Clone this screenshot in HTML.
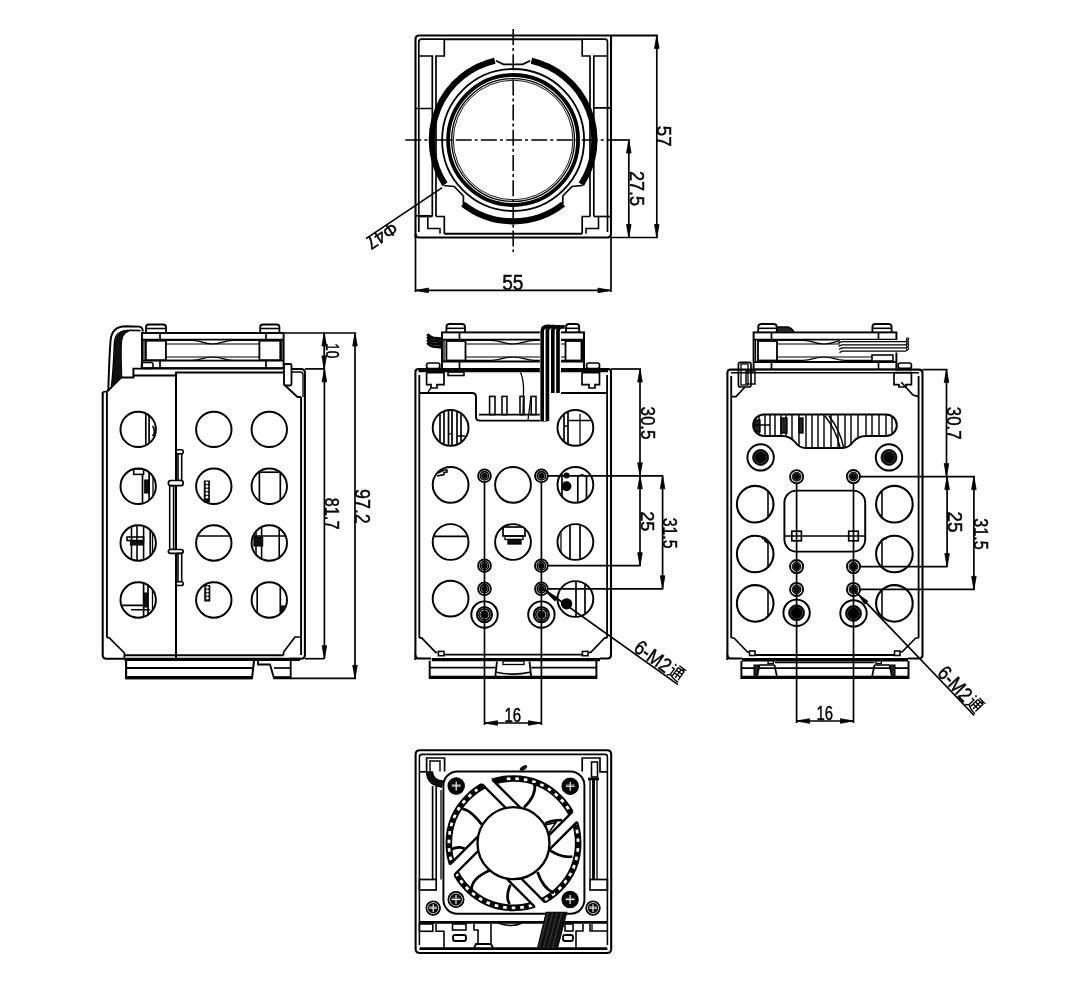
<!DOCTYPE html>
<html><head><meta charset="utf-8"><style>
html,body{margin:0;padding:0;background:#fff;}
svg{filter:grayscale(1);}
svg{display:block;}
text{font-family:"Liberation Sans",sans-serif;fill:#000;stroke:#000;stroke-width:0.45px;}
</style></head><body>
<svg width="1078" height="1000" viewBox="0 0 1078 1000" stroke="#000" fill="none" stroke-linecap="butt" stroke-linejoin="miter">
<rect x="0" y="0" width="1078" height="1000" fill="#fff" stroke="none"/>
<defs><clipPath id="c1"><circle cx="138.4" cy="429.1" r="17.2"/></clipPath><clipPath id="c2"><circle cx="138.4" cy="486.2" r="17.2"/></clipPath><clipPath id="c3"><circle cx="138.4" cy="543" r="17.2"/></clipPath><clipPath id="c4"><circle cx="138.4" cy="600" r="17.2"/></clipPath><clipPath id="c5"><circle cx="213.8" cy="543" r="17.2"/></clipPath><clipPath id="c6"><circle cx="269.3" cy="486.2" r="17.2"/></clipPath><clipPath id="c7"><circle cx="269.3" cy="543" r="17.2"/></clipPath><clipPath id="c8"><circle cx="269.3" cy="600" r="17.2"/></clipPath><clipPath id="c9"><circle cx="450.6" cy="427.8" r="17.2"/></clipPath><clipPath id="c10"><circle cx="575.4" cy="427.8" r="17.2"/></clipPath><clipPath id="c11"><circle cx="450.6" cy="484.8" r="17.2"/></clipPath><clipPath id="c12"><circle cx="575.4" cy="484.8" r="17.2"/></clipPath><clipPath id="c13"><circle cx="450.6" cy="542" r="17.2"/></clipPath><clipPath id="c14"><circle cx="513" cy="542" r="17.2"/></clipPath><clipPath id="c15"><circle cx="575.4" cy="542" r="17.2"/></clipPath><clipPath id="c16"><circle cx="575.4" cy="599" r="17.2"/></clipPath><clipPath id="c17"><path d="M764,414.4 L886,414.4 A10.8,10.8 0 0 1 886,436 L866,436 Q858,436 853,442 Q849,448 842,448 L806,448 Q799,448 795,442 Q790,436 782,436 L764,436 A10.8,10.8 0 0 1 764,414.4 Z"/></clipPath></defs>
<path d="M415.5,238 L415.5,39 Q415.5,35.5 419,35.5 L658,35.5" stroke-width="2.08" fill="none" />
<path d="M611,35.5 L611,234 Q611,237.5 607.5,237.5 L419,237.5 Q415.5,237.5 415.5,234" stroke-width="2.08" fill="none" />
<line x1="611.00" y1="237.50" x2="658.00" y2="237.50" stroke-width="1.69" />
<path d="M418.8,232 L418.8,42 Q418.8,39.2 421.5,39.2 L444.3,39.2" stroke-width="1.69" fill="none" />
<line x1="444.30" y1="39.20" x2="582.20" y2="39.20" stroke-width="1.95" />
<path d="M582.2,39.2 L605,39.2 Q607.5,39.2 607.5,42 L607.5,232" stroke-width="1.69" fill="none" />
<line x1="444.30" y1="233.80" x2="582.20" y2="233.80" stroke-width="1.95" />
<polyline points="418.80,56.00 432.30,56.00 432.30,108.50 415.50,108.50" stroke-width="1.69" fill="none" />
<polyline points="444.30,39.20 444.30,56.00 436.00,56.00 436.00,216.50" stroke-width="1.69" fill="none" />
<line x1="432.30" y1="108.50" x2="432.30" y2="216.50" stroke-width="1.69" />
<polyline points="607.50,56.00 593.80,56.00 593.80,107.80 611.00,107.80" stroke-width="1.69" fill="none" />
<polyline points="582.20,39.20 582.20,56.00 590.00,56.00 590.00,216.50" stroke-width="1.69" fill="none" />
<line x1="593.80" y1="107.80" x2="593.80" y2="216.50" stroke-width="1.69" />
<line x1="415.50" y1="215.80" x2="432.30" y2="215.80" stroke-width="1.69" />
<polyline points="436.00,216.50 444.30,216.50 444.30,233.80" stroke-width="1.69" fill="none" />
<polyline points="418.80,216.50 432.30,216.50" stroke-width="1.69" fill="none" />
<polyline points="427.80,216.50 427.80,228.50 440.00,228.50 440.00,233.80" stroke-width="1.56" fill="none" />
<line x1="611.00" y1="216.50" x2="593.80" y2="216.50" stroke-width="1.69" />
<polyline points="590.00,216.50 582.20,216.50 582.20,233.80" stroke-width="1.69" fill="none" />
<polyline points="598.50,216.50 598.50,228.50 586.00,228.50 586.00,233.80" stroke-width="1.56" fill="none" />
<line x1="402.00" y1="140.00" x2="611.00" y2="140.00" stroke-width="1.56" stroke-dasharray="16,3,3,3.2" stroke-dashoffset="21.9"/>
<line x1="611.00" y1="140.00" x2="630.00" y2="140.00" stroke-width="1.69" />
<line x1="513.20" y1="29.00" x2="513.20" y2="252.00" stroke-width="1.56" stroke-dasharray="16,3,3,3.2" stroke-dashoffset="0"/>
<path d="M531.39,60.78 A81.3,81.3 0 0 1 581.28,184.28" stroke-width="6.2" fill="none" />
<path d="M563.15,204.07 A81.3,81.3 0 0 1 463.05,204.07" stroke-width="6.2" fill="none" />
<path d="M444.92,184.28 A81.3,81.3 0 0 1 494.81,60.78" stroke-width="6.2" fill="none" />
<polyline points="496.00,60.80 503.50,64.30 522.70,64.30 530.20,60.80" stroke-width="1.82" fill="none" />
<polyline points="443.60,185.50 454.20,186.50 463.40,196.00 463.40,204.50" stroke-width="1.69" fill="none" />
<polyline points="582.60,185.50 572.00,186.50 562.80,196.00 562.80,204.50" stroke-width="1.69" fill="none" />
<circle cx="513.10" cy="140.00" r="71.00" stroke-width="1.82" fill="none" />
<circle cx="513.10" cy="140.00" r="65.00" stroke-width="3.8" fill="none" />
<circle cx="513.10" cy="140.00" r="61.40" stroke-width="1.3" fill="none" />
<circle cx="513.10" cy="140.00" r="59.80" stroke-width="0.91" fill="none" />
<line x1="656.80" y1="35.50" x2="656.80" y2="237.50" stroke-width="1.69" />
<polygon points="656.80,35.50 659.10,48.50 654.50,48.50" stroke-width="0.78" fill="#000" />
<polygon points="656.80,237.50 654.50,224.50 659.10,224.50" stroke-width="0.78" fill="#000" />
<line x1="628.80" y1="140.00" x2="628.80" y2="237.50" stroke-width="1.69" />
<polygon points="628.80,140.00 631.10,153.00 626.50,153.00" stroke-width="0.78" fill="#000" />
<polygon points="628.80,237.50 626.50,224.50 631.10,224.50" stroke-width="0.78" fill="#000" />
<line x1="415.50" y1="238.00" x2="415.50" y2="292.00" stroke-width="1.69" />
<line x1="611.00" y1="238.00" x2="611.00" y2="292.00" stroke-width="1.69" />
<line x1="415.50" y1="290.40" x2="611.00" y2="290.40" stroke-width="1.69" />
<polygon points="415.50,290.40 428.50,288.10 428.50,292.70" stroke-width="0.78" fill="#000" />
<polygon points="611.00,290.40 598.00,292.70 598.00,288.10" stroke-width="0.78" fill="#000" />
<text x="0" y="0" font-size="20.95" textLength="20.76" lengthAdjust="spacingAndGlyphs" text-anchor="start" transform="translate(657.00,125.87) rotate(90)" >57</text>
<text x="0" y="0" font-size="20.25" textLength="35.22" lengthAdjust="spacingAndGlyphs" text-anchor="start" transform="translate(629.50,170.89) rotate(90)" >27.5</text>
<text x="0" y="0" font-size="21.37" textLength="21.28" lengthAdjust="spacingAndGlyphs" text-anchor="start" transform="translate(502.16,290.30) rotate(0)" >55</text>
<line x1="366.00" y1="238.60" x2="442.20" y2="187.60" stroke-width="1.69" />
<text x="0" y="0" font-size="18" textLength="34" lengthAdjust="spacingAndGlyphs" text-anchor="start" transform="translate(392.50,221.20) rotate(146.2)" >Φ47</text>
<rect x="142.00" y="333.00" width="141.60" height="35.10" rx="0" stroke-width="1.95" fill="none" />
<line x1="142.00" y1="339.70" x2="283.60" y2="339.70" stroke-width="1.82" />
<line x1="142.00" y1="360.60" x2="283.60" y2="360.60" stroke-width="1.82" />
<line x1="160.00" y1="333.00" x2="160.00" y2="339.70" stroke-width="1.69" />
<line x1="266.00" y1="333.00" x2="266.00" y2="339.70" stroke-width="1.69" />
<line x1="160.00" y1="360.60" x2="160.00" y2="368.10" stroke-width="1.69" />
<line x1="266.00" y1="360.60" x2="266.00" y2="368.10" stroke-width="1.69" />
<rect x="145.90" y="340.70" width="20.00" height="19.50" rx="0" stroke-width="1.82" fill="none" />
<rect x="259.40" y="340.70" width="20.90" height="19.50" rx="0" stroke-width="1.82" fill="none" />
<line x1="144.00" y1="340.00" x2="144.00" y2="360.00" stroke-width="1.3" />
<line x1="281.80" y1="340.00" x2="281.80" y2="360.00" stroke-width="1.3" />
<path d="M165.9,340.4 L192.0,340.4 C202.3,340.4 202.3,344.0 212.6,344.0 C222.9,344.0 222.9,340.4 233.2,340.4 L259.4,340.4" stroke-width="1.23" fill="none" />
<path d="M165.9,360.4 L192.0,360.4 C202.3,360.4 202.3,357.0 212.6,357.0 C222.9,357.0 222.9,360.4 233.2,360.4 L259.4,360.4" stroke-width="1.23" fill="none" />
<line x1="165.90" y1="344.00" x2="259.40" y2="344.00" stroke-width="1.23" />
<line x1="165.90" y1="357.00" x2="259.40" y2="357.00" stroke-width="1.23" />
<path d="M146,332.5 L146,327 Q146,324.5 149,324.5 L163,324.5 Q166,324.5 166,327 L166,332.5" stroke-width="1.82" fill="none" />
<line x1="146.00" y1="328.50" x2="166.00" y2="328.50" stroke-width="1.56" />
<path d="M260.2,332.5 L260.2,327 Q260.2,324.5 263,324.5 L276.5,324.5 Q279.4,324.5 279.4,327 L279.4,332.5" stroke-width="1.82" fill="none" />
<line x1="260.20" y1="328.50" x2="279.40" y2="328.50" stroke-width="1.56" />
<line x1="283.60" y1="333.00" x2="356.20" y2="333.00" stroke-width="1.69" />
<rect x="141.50" y="362.50" width="11.50" height="6.00" rx="2" stroke-width="1.56" fill="none" />
<path d="M108.3,391 C108.8,372 109.8,350 110.6,340 C111.5,331 117,326.3 126,326.3 L139.5,326.6 Q143,327.5 142.7,331.5" stroke-width="1.95" fill="none" />
<path d="M111.5,386 C113.5,372 114,350 114.6,341 C115.5,334 121,330.3 130,330.2 L140.5,330.6" stroke-width="1.56" fill="none" />
<path d="M112,385 C114.5,372 115,352 115.5,342 C116.5,335 121,331.2 129,331 C123.5,333 121.6,337 121.3,346 C121,358 121.5,368 121.8,377 Z" stroke-width="1.04" fill="#111" />
<path d="M107.4,391.3 L121.3,377.4 L133.4,377.4 L133.4,368.6 L283,368.6" stroke-width="1.95" fill="none" />
<line x1="133.40" y1="375.50" x2="175.60" y2="375.50" stroke-width="1.95" />
<line x1="175.60" y1="372.50" x2="284.00" y2="372.50" stroke-width="1.82" />
<path d="M102.7,392 L102.7,655 Q102.7,658.7 106.4,658.7 L124.4,658.7" stroke-width="2.08" fill="none" />
<line x1="106.90" y1="391.30" x2="106.90" y2="637.70" stroke-width="1.95" />
<polyline points="106.90,637.70 109.00,637.70 124.40,653.00 124.40,658.70" stroke-width="1.69" fill="none" />
<line x1="102.70" y1="392.00" x2="107.40" y2="391.30" stroke-width="1.69" />
<line x1="176.00" y1="372.00" x2="176.00" y2="658.00" stroke-width="2.08" />
<line x1="124.40" y1="655.20" x2="283.60" y2="655.20" stroke-width="1.95" />
<line x1="124.40" y1="659.40" x2="300.00" y2="659.40" stroke-width="3.12" />
<polyline points="126.10,660.50 126.10,678.30 252.00,678.30 254.00,661.00" stroke-width="2.08" fill="none" />
<line x1="126.10" y1="668.00" x2="252.00" y2="668.00" stroke-width="1.82" />
<line x1="126.10" y1="677.60" x2="252.00" y2="677.60" stroke-width="3.12" />
<polyline points="258.00,660.50 258.00,664.50 270.00,664.50 274.00,678.30 290.70,678.30 290.70,660.50" stroke-width="1.82" fill="none" />
<line x1="274.00" y1="668.00" x2="290.70" y2="668.00" stroke-width="1.69" />
<line x1="274.00" y1="677.60" x2="290.70" y2="677.60" stroke-width="2.86" />
<path d="M291,369 L301,369 Q304.9,369 304.9,373 L304.9,655 Q304.9,658.7 301,658.7 L290,658.7" stroke-width="2.08" fill="none" />
<line x1="301.10" y1="397.00" x2="301.10" y2="655.00" stroke-width="1.95" />
<path d="M291.5,372 L300,372 Q303,372 303,375 L303,397" stroke-width="1.3" fill="none" />
<rect x="284.00" y="364.00" width="7.50" height="21.50" rx="1.5" stroke-width="1.82" fill="#fff" />
<polyline points="284.00,384.50 297.50,397.00 301.10,397.00" stroke-width="1.82" fill="none" />
<polyline points="301.10,637.00 295.00,637.00 283.60,652.00 283.60,655.20" stroke-width="1.69" fill="none" />
<line x1="304.90" y1="658.70" x2="324.00" y2="658.70" stroke-width="1.69" />
<line x1="290.70" y1="678.30" x2="356.00" y2="678.30" stroke-width="1.69" />
<line x1="305.00" y1="368.90" x2="324.70" y2="368.90" stroke-width="1.69" />
<rect x="178.00" y="453.50" width="3.70" height="27.00" rx="0" stroke-width="1.56" fill="none" />
<rect x="176.00" y="449.80" width="7.20" height="4.00" rx="1.8" stroke-width="1.56" fill="#fff" />
<rect x="168.40" y="480.50" width="14.80" height="5.20" rx="2.4" stroke-width="1.69" fill="#fff" />
<rect x="169.70" y="485.70" width="3.90" height="63.80" rx="0" stroke-width="1.56" fill="none" />
<rect x="168.40" y="549.50" width="14.80" height="3.90" rx="2.2" stroke-width="1.69" fill="#fff" />
<rect x="178.00" y="553.40" width="3.70" height="28.30" rx="0" stroke-width="1.56" fill="none" />
<rect x="176.00" y="581.70" width="7.20" height="3.80" rx="1.8" stroke-width="1.56" fill="#fff" />
<circle cx="138.20" cy="429.40" r="17.70" stroke-width="1.95" fill="none" />
<circle cx="138.20" cy="486.30" r="17.70" stroke-width="1.95" fill="none" />
<circle cx="138.20" cy="543.00" r="17.70" stroke-width="1.95" fill="none" />
<circle cx="138.20" cy="600.00" r="17.70" stroke-width="1.95" fill="none" />
<circle cx="213.80" cy="429.40" r="17.70" stroke-width="1.95" fill="none" />
<circle cx="213.80" cy="486.30" r="17.70" stroke-width="1.95" fill="none" />
<circle cx="213.80" cy="543.00" r="17.70" stroke-width="1.95" fill="none" />
<circle cx="213.80" cy="600.00" r="17.70" stroke-width="1.95" fill="none" />
<circle cx="269.30" cy="429.40" r="17.70" stroke-width="1.95" fill="none" />
<circle cx="269.30" cy="486.30" r="17.70" stroke-width="1.95" fill="none" />
<circle cx="269.30" cy="543.00" r="17.70" stroke-width="1.95" fill="none" />
<circle cx="269.30" cy="600.00" r="17.70" stroke-width="1.95" fill="none" />
<g clip-path="url(#c1)">
<line x1="145.80" y1="410.00" x2="145.80" y2="448.00" stroke-width="1.69" />
<line x1="149.10" y1="410.00" x2="149.10" y2="448.00" stroke-width="1.69" />
<path d="M152.5,426 Q155,429 154,434 L152.5,436" stroke-width="1.56" fill="none" />
</g>
<g clip-path="url(#c2)">
<rect x="133.70" y="469.00" width="9.90" height="5.40" rx="0" stroke-width="1.56" fill="none" />
<line x1="142.50" y1="474.40" x2="142.50" y2="506.00" stroke-width="1.69" />
<line x1="149.10" y1="466.00" x2="149.10" y2="506.00" stroke-width="1.69" />
<line x1="153.00" y1="466.00" x2="153.00" y2="506.00" stroke-width="1.3" />
<rect x="144.70" y="480.00" width="4.40" height="13.00" rx="0" stroke-width="1.04" fill="#111" />
</g>
<g clip-path="url(#c3)">
<line x1="131.50" y1="522.00" x2="131.50" y2="564.00" stroke-width="1.56" />
<line x1="137.00" y1="522.00" x2="137.00" y2="564.00" stroke-width="1.56" />
<line x1="143.60" y1="522.00" x2="143.60" y2="564.00" stroke-width="1.56" />
<line x1="150.20" y1="522.00" x2="150.20" y2="564.00" stroke-width="1.56" />
<rect x="127.00" y="537.00" width="16.60" height="3.50" rx="0" stroke-width="1.56" fill="none" />
<rect x="130.40" y="541.60" width="13.20" height="3.40" rx="0" stroke-width="1.04" fill="#111" />
<line x1="152.50" y1="525.00" x2="152.50" y2="562.00" stroke-width="1.3" />
</g>
<g clip-path="url(#c4)">
<line x1="143.60" y1="582.00" x2="143.60" y2="620.00" stroke-width="1.69" />
<line x1="148.00" y1="582.00" x2="148.00" y2="620.00" stroke-width="1.69" />
<line x1="152.50" y1="584.00" x2="152.50" y2="620.00" stroke-width="1.3" />
<rect x="144.50" y="593.00" width="3.50" height="14.00" rx="0" stroke-width="1.04" fill="#111" />
<polyline points="120.00,605.40 143.60,605.40" stroke-width="1.69" fill="none" />
<polyline points="131.00,609.80 150.00,609.80" stroke-width="1.56" fill="none" />
</g>
<rect x="204.30" y="481.00" width="5.00" height="21.00" rx="0" stroke-width="1.04" fill="#111" />
<circle cx="206.90" cy="482.80" r="1.10" stroke-width="0.65" fill="#fff" stroke="#fff"/>
<circle cx="206.90" cy="486.40" r="1.10" stroke-width="0.65" fill="#fff" stroke="#fff"/>
<circle cx="206.90" cy="490.00" r="1.10" stroke-width="0.65" fill="#fff" stroke="#fff"/>
<circle cx="206.90" cy="493.60" r="1.10" stroke-width="0.65" fill="#fff" stroke="#fff"/>
<circle cx="206.90" cy="497.20" r="1.10" stroke-width="0.65" fill="#fff" stroke="#fff"/>
<rect x="204.80" y="585.60" width="5.00" height="15.40" rx="0" stroke-width="1.04" fill="#111" />
<circle cx="207.40" cy="587.40" r="1.10" stroke-width="0.65" fill="#fff" stroke="#fff"/>
<circle cx="207.40" cy="591.00" r="1.10" stroke-width="0.65" fill="#fff" stroke="#fff"/>
<circle cx="207.40" cy="594.60" r="1.10" stroke-width="0.65" fill="#fff" stroke="#fff"/>
<circle cx="207.40" cy="598.20" r="1.10" stroke-width="0.65" fill="#fff" stroke="#fff"/>
<g clip-path="url(#c5)">
<line x1="195.00" y1="536.00" x2="233.00" y2="536.00" stroke-width="1.69" />
</g>
<g clip-path="url(#c6)">
<rect x="259.40" y="472.20" width="20.90" height="37.80" rx="0" stroke-width="1.69" fill="none" />
</g>
<g clip-path="url(#c7)">
<line x1="256.00" y1="522.00" x2="256.00" y2="564.00" stroke-width="1.56" />
<line x1="261.60" y1="522.00" x2="261.60" y2="564.00" stroke-width="1.56" />
<line x1="279.20" y1="522.00" x2="279.20" y2="564.00" stroke-width="1.56" />
<line x1="286.90" y1="522.00" x2="286.90" y2="564.00" stroke-width="1.56" />
<line x1="250.00" y1="536.00" x2="290.00" y2="536.00" stroke-width="1.69" />
<rect x="253.90" y="537.00" width="8.80" height="9.00" rx="0" stroke-width="1.04" fill="#111" />
</g>
<g clip-path="url(#c8)">
<line x1="257.20" y1="580.00" x2="257.20" y2="620.00" stroke-width="1.69" />
<line x1="280.30" y1="580.00" x2="280.30" y2="620.00" stroke-width="1.69" />
<rect x="281.00" y="606.00" width="5.00" height="6.00" rx="0" stroke-width="1.04" fill="#111" />
</g>
<line x1="324.20" y1="332.90" x2="324.20" y2="368.90" stroke-width="1.69" />
<polygon points="324.20,332.90 326.50,345.90 321.90,345.90" stroke-width="0.78" fill="#000" />
<polygon points="324.20,368.90 321.90,355.90 326.50,355.90" stroke-width="0.78" fill="#000" />
<line x1="324.40" y1="368.90" x2="324.40" y2="658.70" stroke-width="1.69" />
<polygon points="324.40,368.90 326.70,381.90 322.10,381.90" stroke-width="0.78" fill="#000" />
<polygon points="324.40,658.70 322.10,645.70 326.70,645.70" stroke-width="0.78" fill="#000" />
<line x1="355.00" y1="333.00" x2="355.00" y2="678.30" stroke-width="1.69" />
<polygon points="355.00,333.00 357.30,346.00 352.70,346.00" stroke-width="0.78" fill="#000" />
<polygon points="355.00,678.30 352.70,665.30 357.30,665.30" stroke-width="0.78" fill="#000" />
<text x="0" y="0" font-size="18.72" textLength="15.12" lengthAdjust="spacingAndGlyphs" text-anchor="start" transform="translate(325.60,343.24) rotate(90)" >10</text>
<text x="0" y="0" font-size="20.67" textLength="31.64" lengthAdjust="spacingAndGlyphs" text-anchor="start" transform="translate(324.80,497.78) rotate(90)" >81.7</text>
<text x="0" y="0" font-size="21.23" textLength="34.87" lengthAdjust="spacingAndGlyphs" text-anchor="start" transform="translate(355.20,488.96) rotate(90)" >97.2</text>
<rect x="442.00" y="332.40" width="142.00" height="36.60" rx="0" stroke-width="1.95" fill="none" />
<line x1="442.00" y1="339.70" x2="584.00" y2="339.70" stroke-width="1.82" />
<line x1="442.00" y1="361.50" x2="584.00" y2="361.50" stroke-width="1.82" />
<line x1="459.50" y1="332.40" x2="459.50" y2="339.70" stroke-width="1.69" />
<line x1="459.50" y1="361.50" x2="459.50" y2="369.00" stroke-width="1.69" />
<rect x="446.40" y="341.00" width="19.10" height="19.50" rx="0" stroke-width="1.82" fill="none" />
<rect x="565.50" y="341.00" width="16.00" height="19.50" rx="0" stroke-width="1.82" fill="none" />
<line x1="444.00" y1="340.00" x2="444.00" y2="361.00" stroke-width="1.3" />
<line x1="582.50" y1="340.00" x2="582.50" y2="361.00" stroke-width="1.3" />
<path d="M465.5,340.4 L491.0,340.4 C502.0,340.4 502.0,344.0 513.0,344.0 C524.0,344.0 524.0,340.4 535.0,340.4 L565.5,340.4" stroke-width="1.23" fill="none" />
<path d="M465.5,360.4 L491.0,360.4 C502.0,360.4 502.0,357.0 513.0,357.0 C524.0,357.0 524.0,360.4 535.0,360.4 L565.5,360.4" stroke-width="1.23" fill="none" />
<line x1="465.50" y1="344.00" x2="565.50" y2="344.00" stroke-width="1.23" />
<line x1="465.50" y1="357.00" x2="565.50" y2="357.00" stroke-width="1.23" />
<path d="M446.4,332 L446.4,327 Q446.4,324 449.5,324 L462,324 Q465,324 465,327 L465,332" stroke-width="1.82" fill="none" />
<line x1="446.40" y1="328.30" x2="465.00" y2="328.30" stroke-width="1.56" />
<path d="M566,332 L566,327 Q566,324 569,324 L576.5,324 Q579.2,324 579.2,327 L579.2,332" stroke-width="1.82" fill="none" />
<line x1="566.00" y1="328.30" x2="579.20" y2="328.30" stroke-width="1.56" />
<rect x="448.00" y="372.00" width="16.00" height="3.50" rx="0" stroke-width="1.56" fill="none" />
<path d="M442,339.0 L433,338.0 Q429,337.0 427.5,334.0" stroke-width="2.86" fill="none" />
<path d="M442,341.8 L433,340.8 Q429,339.8 427.5,336.8" stroke-width="2.86" fill="none" />
<path d="M442,344.6 L433,343.6 Q429,342.6 427.5,339.6" stroke-width="2.86" fill="none" />
<path d="M442,347.4 L433,346.4 Q429,345.4 427.5,342.4" stroke-width="2.86" fill="none" />
<path d="M415.4,660 L415.4,372 Q415.4,369 418.5,369 L608,369 Q611.0,369 611.0,372 L611.0,655 Q611.0,658.5 607.5,658.5 L600,658.5" stroke-width="2.08" fill="none" />
<line x1="418.50" y1="370.60" x2="608.00" y2="370.60" stroke-width="3.38" />
<line x1="611.00" y1="369.00" x2="641.00" y2="369.00" stroke-width="1.69" />
<line x1="419.30" y1="375.00" x2="419.30" y2="637.90" stroke-width="1.82" />
<line x1="607.10" y1="375.00" x2="607.10" y2="637.90" stroke-width="1.82" />
<rect x="426.60" y="363.00" width="13.20" height="5.50" rx="2" stroke-width="1.69" fill="none" />
<polyline points="426.60,372.60 444.00,372.60 444.00,384.60 437.00,384.60 437.00,388.00 431.00,388.00 431.00,384.60 426.60,384.60 426.60,372.60" stroke-width="1.69" fill="none" />
<polyline points="431.00,388.00 428.00,392.00" stroke-width="1.3" fill="none" />
<rect x="586.60" y="363.00" width="12.90" height="5.50" rx="2" stroke-width="1.69" fill="none" />
<polyline points="582.00,372.60 599.50,372.60 599.50,384.60 595.00,384.60 595.00,388.00 589.00,388.00 589.00,384.60 582.00,384.60 582.00,372.60" stroke-width="1.69" fill="none" />
<path d="M420,393 L472,393 Q476,393 476,397 L476,417 Q476,420.6 480,420.6 L546,420.6 Q549.8,420.6 549.8,417 L549.8,397 Q549.8,393 554,393 L607.1,393" stroke-width="1.95" fill="none" />
<line x1="479.00" y1="414.60" x2="547.00" y2="414.60" stroke-width="1.56" />
<rect x="489.60" y="396.40" width="5.40" height="18.20" rx="0" stroke-width="1.56" fill="none" />
<rect x="502.00" y="396.40" width="5.00" height="18.20" rx="0" stroke-width="1.56" fill="none" />
<rect x="520.00" y="396.40" width="4.00" height="18.20" rx="0" stroke-width="1.56" fill="none" />
<rect x="531.20" y="396.40" width="4.80" height="18.20" rx="0" stroke-width="1.56" fill="none" />
<path d="M520.5,372.5 Q524,380 523.5,393 L523,414" stroke-width="1.3" fill="none" />
<path d="M531,396 L528,420" stroke-width="1.3" fill="none" />
<rect x="539.80" y="326.00" width="21.20" height="95.00" rx="0" stroke-width="0.0" fill="#fff" stroke="none"/>
<path d="M542.2,421 L542.2,331.5 Q542.2,326.4 547.7,326.4 L550.7,326.4" stroke-width="3.64" fill="none" />
<path d="M547.4,421 L547.4,331.5 Q547.4,326.54999999999995 552.3,326.54999999999995 L555.3,326.54999999999995" stroke-width="3.64" fill="none" />
<path d="M552.8,393 L552.8,331.5 Q552.8,326.7 557.0999999999999,326.7 L560.0999999999999,326.7" stroke-width="3.64" fill="none" />
<path d="M558.0,393 L558.0,331.5 Q558.0,326.84999999999997 561.7,326.84999999999997 L564.7,326.84999999999997" stroke-width="3.64" fill="none" />
<polyline points="419.30,637.90 421.70,637.90 435.60,652.30 437.30,652.30" stroke-width="1.69" fill="none" />
<rect x="438.40" y="651.40" width="5.60" height="4.30" rx="0" stroke-width="1.56" fill="none" />
<polyline points="607.10,637.90 604.70,637.90 590.80,652.30 589.00,652.30" stroke-width="1.69" fill="none" />
<rect x="582.40" y="651.40" width="5.60" height="4.30" rx="0" stroke-width="1.56" fill="none" />
<path d="M415.4,655 Q415.4,658.5 419,658.5 L431,658.5" stroke-width="2.08" fill="none" />
<line x1="444.00" y1="654.60" x2="582.40" y2="654.60" stroke-width="1.95" />
<line x1="431.70" y1="659.60" x2="600.00" y2="659.60" stroke-width="3.38" />
<polyline points="429.70,660.70 429.70,678.00 596.40,678.00 596.40,660.70" stroke-width="1.95" fill="none" />
<line x1="429.70" y1="677.20" x2="596.40" y2="677.20" stroke-width="3.12" />
<line x1="429.70" y1="667.70" x2="495.80" y2="667.70" stroke-width="1.82" />
<line x1="531.30" y1="667.70" x2="596.40" y2="667.70" stroke-width="1.82" />
<polyline points="496.90,661.50 495.20,678.00" stroke-width="1.82" fill="none" />
<polyline points="529.50,661.50 531.30,678.00" stroke-width="1.82" fill="none" />
<path d="M496.5,672.3 Q513,676 530,672.3" stroke-width="1.56" fill="none" />
<rect x="503.00" y="661.00" width="21.00" height="3.50" rx="0" stroke-width="1.3" fill="none" />
<circle cx="450.60" cy="427.80" r="17.90" stroke-width="1.95" fill="none" />
<circle cx="575.40" cy="427.80" r="17.90" stroke-width="1.95" fill="none" />
<circle cx="450.60" cy="484.80" r="17.90" stroke-width="1.95" fill="none" />
<circle cx="513.00" cy="484.80" r="17.90" stroke-width="1.95" fill="none" />
<circle cx="575.40" cy="484.80" r="17.90" stroke-width="1.95" fill="none" />
<circle cx="450.60" cy="542.00" r="17.90" stroke-width="1.95" fill="none" />
<circle cx="513.00" cy="542.00" r="17.90" stroke-width="1.95" fill="none" />
<circle cx="575.40" cy="542.00" r="17.90" stroke-width="1.95" fill="none" />
<circle cx="450.60" cy="598.60" r="17.90" stroke-width="1.95" fill="none" />
<circle cx="575.40" cy="599.00" r="17.90" stroke-width="1.95" fill="none" />
<g clip-path="url(#c9)">
<line x1="440.00" y1="408.00" x2="440.00" y2="448.00" stroke-width="1.69" />
<line x1="444.00" y1="408.00" x2="444.00" y2="448.00" stroke-width="1.69" />
<line x1="448.50" y1="408.00" x2="448.50" y2="448.00" stroke-width="1.69" />
<line x1="452.00" y1="408.00" x2="452.00" y2="448.00" stroke-width="1.69" />
<line x1="457.00" y1="408.00" x2="457.00" y2="448.00" stroke-width="1.69" />
<line x1="461.00" y1="408.00" x2="461.00" y2="448.00" stroke-width="1.69" />
<line x1="448.50" y1="434.50" x2="452.00" y2="433.00" stroke-width="1.3" />
<line x1="457.00" y1="436.00" x2="465.00" y2="436.00" stroke-width="1.3" />
</g>
<g clip-path="url(#c10)">
<line x1="564.00" y1="408.00" x2="564.00" y2="448.00" stroke-width="1.69" />
<line x1="568.00" y1="408.00" x2="568.00" y2="448.00" stroke-width="1.69" />
<line x1="568.00" y1="420.50" x2="595.00" y2="420.50" stroke-width="1.56" />
<line x1="564.00" y1="426.00" x2="568.00" y2="426.00" stroke-width="1.3" />
<line x1="580.00" y1="414.00" x2="580.00" y2="448.00" stroke-width="1.3" />
</g>
<g clip-path="url(#c11)">
<polyline points="438.00,473.00 444.00,470.00 447.00,470.00 447.00,472.00 444.00,472.50 444.00,474.50 437.00,476.00" stroke-width="1.56" fill="none" />
</g>
<g clip-path="url(#c12)">
<circle cx="566.60" cy="475.50" r="2.40" stroke-width="1.3" fill="#000" />
<circle cx="566.50" cy="486.20" r="4.30" stroke-width="1.3" fill="#000" />
<line x1="562.00" y1="465.00" x2="562.00" y2="505.00" stroke-width="1.69" />
<line x1="577.80" y1="476.00" x2="577.80" y2="505.00" stroke-width="1.69" />
<line x1="586.50" y1="476.00" x2="586.50" y2="505.00" stroke-width="1.69" />
<path d="M577.8,477 Q582,472.5 586.5,477" stroke-width="1.69" fill="none" />
</g>
<g clip-path="url(#c13)">
<line x1="430.00" y1="536.30" x2="470.00" y2="536.30" stroke-width="1.82" />
</g>
<g clip-path="url(#c14)">
<rect x="503.00" y="527.00" width="22.00" height="9.00" rx="0" stroke-width="1.69" fill="none" />
<rect x="505.00" y="536.00" width="18.00" height="3.50" rx="0" stroke-width="1.3" fill="none" />
<rect x="508.00" y="539.50" width="13.00" height="4.50" rx="0" stroke-width="1.3" fill="#111" />
<line x1="503.00" y1="520.00" x2="503.00" y2="530.00" stroke-width="1.3" />
<line x1="525.00" y1="520.00" x2="525.00" y2="530.00" stroke-width="1.3" />
</g>
<g clip-path="url(#c15)">
<line x1="570.00" y1="520.00" x2="570.00" y2="565.00" stroke-width="1.69" />
<line x1="580.00" y1="520.00" x2="580.00" y2="565.00" stroke-width="1.69" />
<line x1="561.00" y1="520.00" x2="561.00" y2="565.00" stroke-width="1.3" />
</g>
<g clip-path="url(#c16)">
<circle cx="566.60" cy="603.80" r="5.00" stroke-width="1.3" fill="#000" />
<line x1="576.00" y1="580.00" x2="576.00" y2="620.00" stroke-width="1.69" />
<line x1="585.00" y1="580.00" x2="585.00" y2="620.00" stroke-width="1.69" />
</g>
<circle cx="484.50" cy="475.80" r="6.40" stroke-width="1.82" fill="none" />
<circle cx="484.50" cy="475.80" r="4.20" stroke-width="1.56" fill="none" />
<circle cx="484.50" cy="475.80" r="2.90" stroke-width="0.65" fill="#000" />
<circle cx="484.50" cy="565.70" r="6.40" stroke-width="1.82" fill="none" />
<circle cx="484.50" cy="565.70" r="4.20" stroke-width="1.56" fill="none" />
<circle cx="484.50" cy="565.70" r="2.90" stroke-width="0.65" fill="#000" />
<circle cx="484.50" cy="588.80" r="6.40" stroke-width="1.82" fill="none" />
<circle cx="484.50" cy="588.80" r="4.20" stroke-width="1.56" fill="none" />
<circle cx="484.50" cy="588.80" r="2.90" stroke-width="0.65" fill="#000" />
<circle cx="484.50" cy="614.60" r="13.20" stroke-width="1.95" fill="none" />
<circle cx="484.50" cy="614.60" r="7.60" stroke-width="1.95" fill="none" />
<circle cx="484.50" cy="614.60" r="5.60" stroke-width="1.56" fill="none" />
<circle cx="484.50" cy="614.60" r="3.90" stroke-width="0.65" fill="#000" />
<line x1="484.50" y1="482.00" x2="484.50" y2="725.00" stroke-width="1.69" />
<circle cx="541.40" cy="475.80" r="6.40" stroke-width="1.82" fill="none" />
<circle cx="541.40" cy="475.80" r="4.20" stroke-width="1.56" fill="none" />
<circle cx="541.40" cy="475.80" r="2.90" stroke-width="0.65" fill="#000" />
<circle cx="541.40" cy="565.70" r="6.40" stroke-width="1.82" fill="none" />
<circle cx="541.40" cy="565.70" r="4.20" stroke-width="1.56" fill="none" />
<circle cx="541.40" cy="565.70" r="2.90" stroke-width="0.65" fill="#000" />
<circle cx="541.40" cy="588.80" r="6.40" stroke-width="1.82" fill="none" />
<circle cx="541.40" cy="588.80" r="4.20" stroke-width="1.56" fill="none" />
<circle cx="541.40" cy="588.80" r="2.90" stroke-width="0.65" fill="#000" />
<circle cx="541.40" cy="614.60" r="13.20" stroke-width="1.95" fill="none" />
<circle cx="541.40" cy="614.60" r="7.60" stroke-width="1.95" fill="none" />
<circle cx="541.40" cy="614.60" r="5.60" stroke-width="1.56" fill="none" />
<circle cx="541.40" cy="614.60" r="3.90" stroke-width="0.65" fill="#000" />
<line x1="541.40" y1="482.00" x2="541.40" y2="725.00" stroke-width="1.69" />
<line x1="547.80" y1="475.80" x2="663.20" y2="475.80" stroke-width="1.69" />
<line x1="547.80" y1="565.70" x2="640.60" y2="565.70" stroke-width="1.69" />
<line x1="547.80" y1="588.80" x2="663.20" y2="588.80" stroke-width="1.69" />
<line x1="640.00" y1="369.00" x2="640.00" y2="475.80" stroke-width="1.69" />
<polygon points="640.00,369.00 642.30,382.00 637.70,382.00" stroke-width="0.78" fill="#000" />
<polygon points="640.00,475.80 637.70,462.80 642.30,462.80" stroke-width="0.78" fill="#000" />
<line x1="640.00" y1="475.80" x2="640.00" y2="565.70" stroke-width="1.69" />
<polygon points="640.00,475.80 642.30,488.80 637.70,488.80" stroke-width="0.78" fill="#000" />
<polygon points="640.00,565.70 637.70,552.70 642.30,552.70" stroke-width="0.78" fill="#000" />
<line x1="662.60" y1="475.80" x2="662.60" y2="588.80" stroke-width="1.69" />
<polygon points="662.60,475.80 664.90,488.80 660.30,488.80" stroke-width="0.78" fill="#000" />
<polygon points="662.60,588.80 660.30,575.80 664.90,575.80" stroke-width="0.78" fill="#000" />
<line x1="484.50" y1="723.00" x2="541.40" y2="723.00" stroke-width="1.69" />
<polygon points="484.50,723.00 497.50,720.70 497.50,725.30" stroke-width="0.78" fill="#000" />
<polygon points="541.40,723.00 528.40,725.30 528.40,720.70" stroke-width="0.78" fill="#000" />
<text x="0" y="0" font-size="20.25" textLength="33.22" lengthAdjust="spacingAndGlyphs" text-anchor="start" transform="translate(640.50,406.39) rotate(90)" >30.5</text>
<text x="0" y="0" font-size="19.13" textLength="20.35" lengthAdjust="spacingAndGlyphs" text-anchor="start" transform="translate(641.20,511.13) rotate(90)" >25</text>
<text x="0" y="0" font-size="20.67" textLength="30.94" lengthAdjust="spacingAndGlyphs" text-anchor="start" transform="translate(663.20,517.68) rotate(90)" >31.5</text>
<text x="0" y="0" font-size="19.41" textLength="16.66" lengthAdjust="spacingAndGlyphs" text-anchor="start" transform="translate(504.42,721.50) rotate(0)" >16</text>
<line x1="543.00" y1="588.50" x2="678.00" y2="684.60" stroke-width="1.69" />
<polygon points="546.50,592.40 557.62,597.45 555.03,601.13" stroke-width="0.78" fill="#000" />
<text x="0" y="0" font-size="20.5" textLength="40" lengthAdjust="spacingAndGlyphs" text-anchor="start" transform="translate(632.60,650.40) rotate(35.6)" >6-M2</text>
<path d="M1.2,-13.2 L2.6,-11.6 M0.3,-8.6 L3.0,-8.6 L3.0,-2.6 M0.2,-0.2 Q2.2,-0.8 3.0,-2.6 Q5,-0.6 13,-0.4 M5.2,-13.6 L11.6,-13.6 L9.2,-12.0 M5.2,-11.6 L11.8,-11.6 L11.8,-2.2 M5.2,-11.6 L5.2,-2.2 M5.2,-8.6 L11.8,-8.6 M5.2,-5.6 L11.8,-5.6 M8.5,-11.6 L8.5,-2.2" transform="translate(666.34,674.56) rotate(35.6) scale(1.08)" stroke-width="1.25" fill="none"/>
<rect x="753.60" y="332.40" width="142.80" height="37.20" rx="0" stroke-width="1.95" fill="none" />
<line x1="753.60" y1="339.70" x2="896.40" y2="339.70" stroke-width="1.82" />
<line x1="753.60" y1="362.00" x2="896.40" y2="362.00" stroke-width="1.82" />
<line x1="771.50" y1="332.40" x2="771.50" y2="339.70" stroke-width="1.69" />
<line x1="771.50" y1="362.00" x2="771.50" y2="369.60" stroke-width="1.69" />
<line x1="878.50" y1="332.40" x2="878.50" y2="339.70" stroke-width="1.69" />
<line x1="878.50" y1="362.00" x2="878.50" y2="369.60" stroke-width="1.69" />
<rect x="758.00" y="341.00" width="19.00" height="19.50" rx="0" stroke-width="1.82" fill="none" />
<rect x="872.00" y="355.00" width="21.00" height="6.00" rx="0" stroke-width="1.56" fill="none" />
<line x1="755.50" y1="340.00" x2="755.50" y2="361.00" stroke-width="1.3" />
<path d="M777,340.4 L803.1,340.4 C813.5,340.4 813.5,344.0 824.0,344.0 C834.5,344.0 834.5,340.4 844.9,340.4 L872,340.4" stroke-width="1.23" fill="none" />
<path d="M777,360.4 L803.1,360.4 C813.5,360.4 813.5,357.0 824.0,357.0 C834.5,357.0 834.5,360.4 844.9,360.4 L872,360.4" stroke-width="1.23" fill="none" />
<line x1="777.00" y1="344.00" x2="872.00" y2="344.00" stroke-width="1.23" />
<line x1="777.00" y1="357.00" x2="872.00" y2="357.00" stroke-width="1.23" />
<path d="M758.2,332 L758.2,327 Q758.2,324 761.5,324 L773.5,324 Q776.8,324 776.8,327 L776.8,332" stroke-width="1.82" fill="none" />
<line x1="758.20" y1="328.30" x2="776.80" y2="328.30" stroke-width="1.56" />
<path d="M872.4,332 L872.4,327 Q872.4,324 875.5,324 L888.5,324 Q891.6,324 891.6,327 L891.6,332" stroke-width="1.82" fill="none" />
<line x1="872.40" y1="328.30" x2="891.60" y2="328.30" stroke-width="1.56" />
<path d="M777,332 L777,327 L788,327 Q792,328 794,332" stroke-width="1.56" fill="#222" />
<rect x="840.00" y="340.00" width="63.00" height="12.50" rx="0" stroke-width="0.0" fill="#fff" stroke="none"/>
<path d="M838.0,343.1 L842.0,341.6 L905.5,341.6 Q907.5,341.1 907.5,339.4" stroke-width="1.3" fill="none" />
<circle cx="907.60" cy="339.00" r="1.20" stroke-width="1.04" fill="none" />
<path d="M838.5,346.3 L842.0,344.8 L905.5,344.8 Q907.5,344.3 907.5,342.6" stroke-width="1.3" fill="none" />
<circle cx="907.60" cy="342.20" r="1.20" stroke-width="1.04" fill="none" />
<path d="M839.0,349.4 L842.0,347.9 L905.5,347.9 Q907.5,347.4 907.5,345.7" stroke-width="1.3" fill="none" />
<circle cx="907.60" cy="345.30" r="1.20" stroke-width="1.04" fill="none" />
<path d="M839.5,352.6 L842.0,351.1 L905.5,351.1 Q907.5,350.6 907.5,348.9" stroke-width="1.3" fill="none" />
<circle cx="907.60" cy="348.50" r="1.20" stroke-width="1.04" fill="none" />
<path d="M727.4,660 L727.4,373 Q727.4,369.6 731,369.6 L919,369.6 Q922.5,369.6 922.5,373 L922.5,655 Q922.5,658.5 919,658.5 L908,658.5" stroke-width="2.08" fill="none" />
<line x1="731.00" y1="372.70" x2="919.00" y2="372.70" stroke-width="1.62" />
<line x1="753.00" y1="370.40" x2="896.00" y2="370.40" stroke-width="0.78" stroke="#777"/>
<line x1="922.50" y1="369.60" x2="947.50" y2="369.60" stroke-width="1.69" />
<line x1="731.20" y1="376.00" x2="731.20" y2="638.00" stroke-width="1.82" />
<line x1="918.60" y1="376.00" x2="918.60" y2="638.00" stroke-width="1.82" />
<rect x="738.40" y="362.40" width="12.60" height="24.60" rx="2" stroke-width="1.69" fill="none" />
<rect x="741.00" y="364.00" width="7.00" height="21.00" rx="0" stroke-width="1.3" fill="none" />
<polyline points="731.20,396.60 736.00,396.60 745.00,387.00" stroke-width="1.69" fill="none" />
<rect x="746.00" y="371.00" width="9.00" height="13.00" rx="0" stroke-width="1.43" fill="none" />
<rect x="898.20" y="363.00" width="13.20" height="5.40" rx="2" stroke-width="1.69" fill="none" />
<polyline points="894.00,372.60 911.40,372.60 911.40,384.60 906.00,384.60 906.00,387.00 899.00,387.00 899.00,384.60 894.00,384.60 894.00,372.60" stroke-width="1.69" fill="none" />
<polyline points="901.20,382.20 913.00,395.00 918.60,396.60" stroke-width="1.69" fill="none" />
<g clip-path="url(#c17)">
<line x1="759.00" y1="413.00" x2="759.00" y2="449.00" stroke-width="1.43" />
<line x1="765.00" y1="413.00" x2="765.00" y2="449.00" stroke-width="1.43" />
<line x1="770.00" y1="413.00" x2="770.00" y2="449.00" stroke-width="1.43" />
<line x1="775.00" y1="413.00" x2="775.00" y2="449.00" stroke-width="1.43" />
<line x1="781.00" y1="413.00" x2="781.00" y2="449.00" stroke-width="1.43" />
<line x1="786.00" y1="413.00" x2="786.00" y2="449.00" stroke-width="1.43" />
<line x1="792.00" y1="413.00" x2="792.00" y2="449.00" stroke-width="1.43" />
<line x1="799.00" y1="413.00" x2="799.00" y2="449.00" stroke-width="1.43" />
<line x1="806.00" y1="413.00" x2="806.00" y2="449.00" stroke-width="1.43" />
<line x1="812.00" y1="413.00" x2="812.00" y2="449.00" stroke-width="1.43" />
<line x1="818.00" y1="413.00" x2="818.00" y2="449.00" stroke-width="1.43" />
<line x1="824.00" y1="413.00" x2="824.00" y2="449.00" stroke-width="1.43" />
<line x1="831.00" y1="413.00" x2="831.00" y2="449.00" stroke-width="1.43" />
<line x1="838.00" y1="413.00" x2="838.00" y2="449.00" stroke-width="1.43" />
<line x1="845.00" y1="413.00" x2="845.00" y2="449.00" stroke-width="1.43" />
<line x1="851.00" y1="413.00" x2="851.00" y2="449.00" stroke-width="1.43" />
<line x1="858.00" y1="413.00" x2="858.00" y2="449.00" stroke-width="1.43" />
<line x1="866.00" y1="413.00" x2="866.00" y2="449.00" stroke-width="1.43" />
<line x1="872.00" y1="413.00" x2="872.00" y2="449.00" stroke-width="1.43" />
<line x1="879.00" y1="413.00" x2="879.00" y2="449.00" stroke-width="1.43" />
<line x1="886.00" y1="413.00" x2="886.00" y2="449.00" stroke-width="1.43" />
<line x1="892.00" y1="413.00" x2="892.00" y2="449.00" stroke-width="1.43" />
<path d="M825,416 Q836,430 840,447" stroke-width="1.43" fill="none" />
<path d="M829,416 Q840,430 843.5,447" stroke-width="1.43" fill="none" />
<rect x="753.00" y="420.00" width="7.00" height="12.00" rx="0" stroke-width="1.3" fill="#222" />
<rect x="781.00" y="418.00" width="6.00" height="15.00" rx="0" stroke-width="1.3" fill="#222" />
<rect x="799.00" y="418.00" width="4.00" height="15.00" rx="0" stroke-width="1.3" fill="#222" />
<line x1="752.00" y1="425.00" x2="770.00" y2="425.00" stroke-width="1.56" />
</g>
<path d="M764,414.4 L886,414.4 A10.8,10.8 0 0 1 886,436 L866,436 Q858,436 853,442 Q849,448 842,448 L806,448 Q799,448 795,442 Q790,436 782,436 L764,436 A10.8,10.8 0 0 1 764,414.4 Z" stroke-width="1.95" fill="none" />
<circle cx="760.60" cy="457.40" r="13.20" stroke-width="1.95" fill="none" />
<circle cx="760.60" cy="457.40" r="8.00" stroke-width="0.78" fill="#000" />
<circle cx="760.60" cy="457.40" r="6.00" stroke-width="0.78" fill="none" stroke="#555"/>
<circle cx="889.00" cy="457.40" r="13.20" stroke-width="1.95" fill="none" />
<circle cx="889.00" cy="457.40" r="8.00" stroke-width="0.78" fill="#000" />
<circle cx="889.00" cy="457.40" r="6.00" stroke-width="0.78" fill="none" stroke="#555"/>
<circle cx="796.60" cy="612.80" r="13.20" stroke-width="1.95" fill="none" />
<circle cx="796.60" cy="612.80" r="8.00" stroke-width="0.78" fill="#000" />
<circle cx="796.60" cy="612.80" r="6.00" stroke-width="0.78" fill="none" stroke="#555"/>
<circle cx="853.50" cy="613.40" r="13.20" stroke-width="1.95" fill="none" />
<circle cx="853.50" cy="613.40" r="8.00" stroke-width="0.78" fill="#000" />
<circle cx="853.50" cy="613.40" r="6.00" stroke-width="0.78" fill="none" stroke="#555"/>
<circle cx="796.60" cy="476.80" r="6.60" stroke-width="1.82" fill="none" />
<circle cx="796.60" cy="476.80" r="4.50" stroke-width="0.78" fill="#000" />
<circle cx="796.60" cy="476.80" r="3.60" stroke-width="0.78" fill="none" stroke="#444"/>
<circle cx="853.40" cy="476.60" r="6.60" stroke-width="1.82" fill="none" />
<circle cx="853.40" cy="476.60" r="4.50" stroke-width="0.78" fill="#000" />
<circle cx="853.40" cy="476.60" r="3.60" stroke-width="0.78" fill="none" stroke="#444"/>
<circle cx="796.60" cy="566.60" r="6.60" stroke-width="1.82" fill="none" />
<circle cx="796.60" cy="566.60" r="4.50" stroke-width="0.78" fill="#000" />
<circle cx="796.60" cy="566.60" r="3.60" stroke-width="0.78" fill="none" stroke="#444"/>
<circle cx="853.50" cy="566.60" r="6.60" stroke-width="1.82" fill="none" />
<circle cx="853.50" cy="566.60" r="4.50" stroke-width="0.78" fill="#000" />
<circle cx="853.50" cy="566.60" r="3.60" stroke-width="0.78" fill="none" stroke="#444"/>
<circle cx="796.60" cy="589.40" r="6.60" stroke-width="1.82" fill="none" />
<circle cx="796.60" cy="589.40" r="4.50" stroke-width="0.78" fill="#000" />
<circle cx="796.60" cy="589.40" r="3.60" stroke-width="0.78" fill="none" stroke="#444"/>
<circle cx="853.50" cy="589.40" r="6.60" stroke-width="1.82" fill="none" />
<circle cx="853.50" cy="589.40" r="4.50" stroke-width="0.78" fill="#000" />
<circle cx="853.50" cy="589.40" r="3.60" stroke-width="0.78" fill="none" stroke="#444"/>
<circle cx="755.20" cy="504.20" r="18.30" stroke-width="2.08" fill="none" />
<circle cx="755.20" cy="554.00" r="18.30" stroke-width="2.08" fill="none" />
<circle cx="755.20" cy="603.40" r="18.30" stroke-width="2.08" fill="none" />
<circle cx="894.40" cy="504.20" r="18.30" stroke-width="2.08" fill="none" />
<circle cx="894.40" cy="554.00" r="18.30" stroke-width="2.08" fill="none" />
<circle cx="894.40" cy="603.40" r="18.30" stroke-width="2.08" fill="none" />
<line x1="768.00" y1="491.00" x2="768.00" y2="518.00" stroke-width="1.56" />
<line x1="768.00" y1="542.00" x2="768.00" y2="568.00" stroke-width="1.56" />
<polyline points="762.00,538.50 765.00,538.50 765.00,541.00 768.00,543.00" stroke-width="1.82" fill="none" />
<line x1="768.00" y1="590.00" x2="768.00" y2="617.00" stroke-width="1.56" />
<line x1="882.00" y1="492.00" x2="882.00" y2="518.00" stroke-width="1.56" />
<line x1="882.00" y1="542.00" x2="882.00" y2="568.00" stroke-width="1.56" />
<polyline points="881.00,541.00 884.00,538.50 887.00,538.50" stroke-width="1.82" fill="none" />
<line x1="882.00" y1="590.00" x2="882.00" y2="617.00" stroke-width="1.56" />
<rect x="784.40" y="490.60" width="80.80" height="61.00" rx="12" stroke-width="1.95" fill="none" />
<line x1="784.40" y1="536.00" x2="865.20" y2="536.00" stroke-width="1.69" />
<rect x="791.80" y="531.20" width="9.60" height="9.60" rx="0" stroke-width="1.69" fill="none" />
<rect x="848.70" y="531.20" width="9.60" height="9.60" rx="0" stroke-width="1.69" fill="none" />
<line x1="796.60" y1="483.00" x2="796.60" y2="723.00" stroke-width="1.69" />
<line x1="853.50" y1="483.00" x2="853.50" y2="723.00" stroke-width="1.69" />
<line x1="860.00" y1="476.60" x2="974.80" y2="476.60" stroke-width="1.69" />
<line x1="860.00" y1="566.60" x2="947.50" y2="566.60" stroke-width="1.69" />
<line x1="860.00" y1="589.40" x2="974.80" y2="589.40" stroke-width="1.69" />
<polyline points="731.20,638.00 734.00,638.00 747.50,652.00 749.00,652.00" stroke-width="1.69" fill="none" />
<rect x="749.50" y="651.00" width="5.50" height="4.50" rx="0" stroke-width="1.56" fill="none" />
<polyline points="918.60,638.00 915.80,638.00 902.00,652.00 900.50,652.00" stroke-width="1.69" fill="none" />
<rect x="894.50" y="651.00" width="5.50" height="4.50" rx="0" stroke-width="1.56" fill="none" />
<path d="M727.4,655 Q727.4,658.5 731,658.5 L742,658.5" stroke-width="2.08" fill="none" />
<line x1="755.00" y1="655.00" x2="894.50" y2="655.00" stroke-width="1.95" />
<line x1="742.00" y1="659.80" x2="908.00" y2="659.80" stroke-width="3.38" />
<polyline points="741.40,661.00 741.40,678.00 908.50,678.00 908.50,661.00" stroke-width="1.95" fill="none" />
<line x1="741.40" y1="677.20" x2="908.50" y2="677.20" stroke-width="3.12" />
<line x1="741.40" y1="668.20" x2="908.50" y2="668.20" stroke-width="1.82" />
<polygon points="754.00,665.00 759.00,665.00 757.00,677.00 754.00,677.00" stroke-width="1.04" fill="#222" />
<polyline points="759.50,665.00 757.00,677.00" stroke-width="1.69" fill="none" />
<polyline points="774.50,665.00 777.00,677.00" stroke-width="1.69" fill="none" />
<polygon points="895.00,665.00 890.00,665.00 892.00,677.00 895.00,677.00" stroke-width="1.04" fill="#222" />
<polyline points="889.50,665.00 892.00,677.00" stroke-width="1.69" fill="none" />
<polyline points="874.50,665.00 872.00,677.00" stroke-width="1.69" fill="none" />
<line x1="759.50" y1="665.00" x2="774.50" y2="665.00" stroke-width="1.56" />
<line x1="874.50" y1="665.00" x2="889.50" y2="665.00" stroke-width="1.56" />
<line x1="775.00" y1="662.50" x2="874.50" y2="662.50" stroke-width="1.56" />
<rect x="768.00" y="660.50" width="5.40" height="3.00" rx="0" stroke-width="1.3" fill="none" />
<rect x="876.00" y="660.50" width="5.40" height="3.00" rx="0" stroke-width="1.3" fill="none" />
<line x1="946.50" y1="369.60" x2="946.50" y2="476.60" stroke-width="1.69" />
<polygon points="946.50,369.60 948.80,382.60 944.20,382.60" stroke-width="0.78" fill="#000" />
<polygon points="946.50,476.60 944.20,463.60 948.80,463.60" stroke-width="0.78" fill="#000" />
<line x1="947.10" y1="476.60" x2="947.10" y2="566.60" stroke-width="1.69" />
<polygon points="947.10,476.60 949.40,489.60 944.80,489.60" stroke-width="0.78" fill="#000" />
<polygon points="947.10,566.60 944.80,553.60 949.40,553.60" stroke-width="0.78" fill="#000" />
<line x1="973.90" y1="476.60" x2="973.90" y2="589.40" stroke-width="1.69" />
<polygon points="973.90,476.60 976.20,489.60 971.60,489.60" stroke-width="0.78" fill="#000" />
<polygon points="973.90,589.40 971.60,576.40 976.20,576.40" stroke-width="0.78" fill="#000" />
<line x1="796.60" y1="721.00" x2="853.50" y2="721.00" stroke-width="1.69" />
<polygon points="796.60,721.00 809.60,718.70 809.60,723.30" stroke-width="0.78" fill="#000" />
<polygon points="853.50,721.00 840.50,723.30 840.50,718.70" stroke-width="0.78" fill="#000" />
<text x="0" y="0" font-size="20.95" textLength="32.76" lengthAdjust="spacingAndGlyphs" text-anchor="start" transform="translate(947.00,406.87) rotate(90)" >30.7</text>
<text x="0" y="0" font-size="19.97" textLength="21.0" lengthAdjust="spacingAndGlyphs" text-anchor="start" transform="translate(947.90,511.60) rotate(90)" >25</text>
<text x="0" y="0" font-size="20.67" textLength="31.44" lengthAdjust="spacingAndGlyphs" text-anchor="start" transform="translate(974.30,518.18) rotate(90)" >31.5</text>
<text x="0" y="0" font-size="20.39" textLength="16.52" lengthAdjust="spacingAndGlyphs" text-anchor="start" transform="translate(816.59,720.30) rotate(0)" >16</text>
<line x1="853.50" y1="589.40" x2="974.20" y2="715.50" stroke-width="1.69" />
<polygon points="858.00,594.10 867.92,601.21 864.67,604.32" stroke-width="0.78" fill="#000" />
<text x="0" y="0" font-size="20.5" textLength="40" lengthAdjust="spacingAndGlyphs" text-anchor="start" transform="translate(936.20,674.10) rotate(46.2)" >6-M2</text>
<path d="M1.2,-13.2 L2.6,-11.6 M0.3,-8.6 L3.0,-8.6 L3.0,-2.6 M0.2,-0.2 Q2.2,-0.8 3.0,-2.6 Q5,-0.6 13,-0.4 M5.2,-13.6 L11.6,-13.6 L9.2,-12.0 M5.2,-11.6 L11.8,-11.6 L11.8,-2.2 M5.2,-11.6 L5.2,-2.2 M5.2,-8.6 L11.8,-8.6 M5.2,-5.6 L11.8,-5.6 M8.5,-11.6 L8.5,-2.2" transform="translate(964.92,704.05) rotate(46.2) scale(1.08)" stroke-width="1.25" fill="none"/>
<path d="M415.6,949 L415.6,754.5 Q415.6,750.2 420,750.2 L607,750.2 Q611.2,750.2 611.2,754.5 L611.2,949 Q611.2,953 607,953 L420,953 Q415.6,953 415.6,949 Z" stroke-width="2.08" fill="none" />
<path d="M419.4,945 L419.4,757 Q419.4,754.4 422,754.4 L426.6,754.4" stroke-width="1.56" fill="none" />
<line x1="426.60" y1="754.40" x2="582.20" y2="754.40" stroke-width="1.82" />
<path d="M582.2,754.4 L605,754.4 Q607.4,754.4 607.4,757 L607.4,945" stroke-width="1.56" fill="none" />
<line x1="419.40" y1="949.00" x2="607.40" y2="949.00" stroke-width="1.82" />
<rect x="443.40" y="771.40" width="141.00" height="142.40" rx="14" stroke-width="1.95" fill="none" />
<polyline points="426.60,771.80 426.60,758.00 444.60,758.00 444.60,771.40" stroke-width="1.69" fill="none" />
<polyline points="430.00,771.80 430.00,761.00 440.00,761.00 440.00,771.40" stroke-width="1.43" fill="none" />
<line x1="419.40" y1="771.80" x2="426.60" y2="771.80" stroke-width="1.69" />
<line x1="432.60" y1="786.00" x2="432.60" y2="879.50" stroke-width="1.69" />
<line x1="436.20" y1="786.00" x2="436.20" y2="879.50" stroke-width="1.69" />
<line x1="441.00" y1="790.00" x2="441.00" y2="879.50" stroke-width="1.3" />
<rect x="419.40" y="879.50" width="16.80" height="10.50" rx="0" stroke-width="1.69" fill="none" />
<path d="M426.5,772 Q427,785 441.5,787 L442.5,781 Q433,780 432.5,772 Z" stroke-width="1.3" fill="#111" />
<polyline points="582.20,771.40 582.20,758.00 600.00,758.00 600.00,771.80 607.40,771.80" stroke-width="1.69" fill="none" />
<rect x="591.50" y="762.00" width="6.00" height="15.00" rx="0" stroke-width="1.56" fill="none" />
<line x1="588.00" y1="779.00" x2="599.00" y2="779.00" stroke-width="2.6" />
<line x1="593.50" y1="779.00" x2="593.50" y2="880.00" stroke-width="2.86" />
<line x1="590.00" y1="780.00" x2="590.00" y2="880.00" stroke-width="1.3" />
<line x1="597.00" y1="780.00" x2="597.00" y2="880.00" stroke-width="1.3" />
<rect x="590.00" y="879.50" width="17.40" height="10.50" rx="0" stroke-width="1.69" fill="none" />
<circle cx="513.50" cy="843.20" r="64.65" stroke-width="4.1" fill="none" stroke="#000" stroke-dasharray="5,3.6"/>
<circle cx="513.50" cy="843.20" r="67.00" stroke-width="1.95" fill="none" />
<circle cx="513.50" cy="843.20" r="62.30" stroke-width="1.82" fill="none" />
<path d="M477.38,789.64 A64.6,64.6 0 0 1 504.51,779.23" stroke-width="4.0" fill="none" />
<ellipse cx="523.5" cy="768" rx="4.2" ry="2" transform="rotate(-32 523.5 768)" fill="#111" stroke="none"/>
<path d="M462.4,809.2 Q469.5,809.0 481.6,824.4" stroke-width="2.73" fill="none" />
<path d="M451.0,849.5 Q459.0,845.5 464.7,848.7" stroke-width="2.73" fill="none" />
<path d="M524.0,807.5 Q537.0,795.0 534.5,783.0" stroke-width="2.73" fill="none" />
<path d="M545.2,823.2 Q553.0,820.0 562.0,820.0" stroke-width="2.73" fill="none" />
<path d="M547.6,848.8 Q562.0,858.5 572.4,856.5" stroke-width="2.73" fill="none" />
<path d="M537.5,872.0 Q543.0,888.5 554.0,893.0" stroke-width="2.73" fill="none" />
<path d="M489.6,870.4 Q472.0,878.0 471.5,889.0" stroke-width="2.73" fill="none" />
<path d="M510.4,884.8 Q505.0,897.6 509.6,904.0" stroke-width="2.73" fill="none" />
<polygon points="545.50,825.00 548.00,834.00 556.00,822.50" stroke-width="1.56" fill="none" />
<polygon points="513.15,815.27 480.20,782.32 490.48,777.89 520.50,807.92" stroke-width="0.0" fill="#fff" stroke="none"/>
<line x1="513.15" y1="815.27" x2="481.96" y2="784.09" stroke-width="2.34" />
<line x1="520.50" y1="807.92" x2="492.25" y2="779.66" stroke-width="2.34" />
<polygon points="541.43,842.85 574.38,809.90 578.81,820.18 548.78,850.20" stroke-width="0.0" fill="#fff" stroke="none"/>
<line x1="541.43" y1="842.85" x2="572.61" y2="811.66" stroke-width="2.34" />
<line x1="548.78" y1="850.20" x2="577.04" y2="821.95" stroke-width="2.34" />
<polygon points="513.85,871.13 546.80,904.08 536.52,908.51 506.50,878.48" stroke-width="0.0" fill="#fff" stroke="none"/>
<line x1="513.85" y1="871.13" x2="545.04" y2="902.31" stroke-width="2.34" />
<line x1="506.50" y1="878.48" x2="534.75" y2="906.74" stroke-width="2.34" />
<polygon points="485.57,843.55 452.62,876.50 448.19,866.22 478.22,836.20" stroke-width="0.0" fill="#fff" stroke="none"/>
<line x1="485.57" y1="843.55" x2="454.39" y2="874.74" stroke-width="2.34" />
<line x1="478.22" y1="836.20" x2="449.96" y2="864.45" stroke-width="2.34" />
<circle cx="513.50" cy="843.20" r="36.00" stroke-width="2.34" fill="#fff" />
<circle cx="456.20" cy="786.00" r="8.20" stroke-width="1.04" fill="#000" />
<line x1="451.69" y1="786.00" x2="460.71" y2="786.00" stroke-width="1.17" stroke="#fff"/>
<line x1="456.20" y1="781.49" x2="456.20" y2="790.51" stroke-width="1.17" stroke="#fff"/>
<line x1="451.69" y1="784.60" x2="460.71" y2="784.60" stroke-width="0.65" stroke="#bbb"/>
<circle cx="570.20" cy="786.20" r="8.20" stroke-width="1.04" fill="#000" />
<line x1="565.69" y1="786.20" x2="574.71" y2="786.20" stroke-width="1.17" stroke="#fff"/>
<line x1="570.20" y1="781.69" x2="570.20" y2="790.71" stroke-width="1.17" stroke="#fff"/>
<line x1="565.69" y1="784.80" x2="574.71" y2="784.80" stroke-width="0.65" stroke="#bbb"/>
<circle cx="456.00" cy="899.50" r="8.00" stroke-width="1.04" fill="#000" />
<circle cx="456.00" cy="899.50" r="6.40" stroke-width="0.78" fill="none" stroke="#fff"/>
<line x1="451.60" y1="899.50" x2="460.40" y2="899.50" stroke-width="1.17" stroke="#fff"/>
<line x1="456.00" y1="895.10" x2="456.00" y2="903.90" stroke-width="1.17" stroke="#fff"/>
<line x1="451.60" y1="898.10" x2="460.40" y2="898.10" stroke-width="0.65" stroke="#bbb"/>
<circle cx="570.10" cy="899.50" r="8.20" stroke-width="1.04" fill="#000" />
<line x1="565.59" y1="899.50" x2="574.61" y2="899.50" stroke-width="1.17" stroke="#fff"/>
<line x1="570.10" y1="894.99" x2="570.10" y2="904.01" stroke-width="1.17" stroke="#fff"/>
<line x1="565.59" y1="898.10" x2="574.61" y2="898.10" stroke-width="0.65" stroke="#bbb"/>
<circle cx="433.20" cy="908.10" r="7.20" stroke-width="1.04" fill="#000" />
<circle cx="433.20" cy="908.10" r="5.60" stroke-width="0.78" fill="none" stroke="#fff"/>
<line x1="429.24" y1="908.10" x2="437.16" y2="908.10" stroke-width="1.17" stroke="#fff"/>
<line x1="433.20" y1="904.14" x2="433.20" y2="912.06" stroke-width="1.17" stroke="#fff"/>
<line x1="429.24" y1="906.70" x2="437.16" y2="906.70" stroke-width="0.65" stroke="#bbb"/>
<circle cx="593.00" cy="908.10" r="7.20" stroke-width="1.04" fill="#000" />
<circle cx="593.00" cy="908.10" r="5.60" stroke-width="0.78" fill="none" stroke="#fff"/>
<line x1="589.04" y1="908.10" x2="596.96" y2="908.10" stroke-width="1.17" stroke="#fff"/>
<line x1="593.00" y1="904.14" x2="593.00" y2="912.06" stroke-width="1.17" stroke="#fff"/>
<line x1="589.04" y1="906.70" x2="596.96" y2="906.70" stroke-width="0.65" stroke="#bbb"/>
<line x1="419.40" y1="922.40" x2="607.40" y2="922.40" stroke-width="2.86" />
<rect x="419.40" y="924.00" width="13.40" height="7.30" rx="0" stroke-width="1.56" fill="none" />
<polyline points="436.00,924.00 436.00,931.30 444.00,931.30 444.00,949.00" stroke-width="1.56" fill="none" />
<rect x="452.50" y="924.00" width="13.50" height="6.00" rx="0" stroke-width="1.56" fill="none" />
<rect x="453.00" y="935.00" width="13.00" height="6.00" rx="2" stroke-width="1.82" fill="none" />
<polyline points="474.00,924.00 474.00,930.00 478.00,930.00 478.00,943.00" stroke-width="1.56" fill="none" />
<polyline points="491.00,924.00 491.00,943.00" stroke-width="1.56" fill="none" />
<path d="M474,948 L476,944 L491,944 L493,948" stroke-width="1.82" fill="none" />
<line x1="420.00" y1="948.50" x2="607.00" y2="948.50" stroke-width="2.6" />
<path d="M498,923 Q512,928 522,923" stroke-width="1.56" fill="none" />
<rect x="565.00" y="924.00" width="8.00" height="7.00" rx="0" stroke-width="1.56" fill="none" />
<rect x="563.00" y="935.00" width="10.00" height="6.00" rx="2" stroke-width="1.82" fill="none" />
<polyline points="583.00,924.00 583.00,931.00 576.00,931.00 576.00,949.00" stroke-width="1.56" fill="none" />
<polyline points="590.00,924.00 590.00,931.00 607.40,931.00" stroke-width="1.56" fill="none" />
<line x1="592.00" y1="924.00" x2="592.00" y2="931.00" stroke-width="1.3" />
<polygon points="546.20,912.30 566.80,912.30 557.30,949.00 537.30,949.00" stroke-width="1.04" fill="#111" />
<line x1="548.00" y1="913.00" x2="539.00" y2="948.00" stroke-width="0.65" stroke="#555"/>
<line x1="552.50" y1="913.00" x2="543.50" y2="948.00" stroke-width="0.65" stroke="#555"/>
<line x1="557.00" y1="913.00" x2="548.00" y2="948.00" stroke-width="0.65" stroke="#555"/>
<line x1="561.50" y1="913.00" x2="552.50" y2="948.00" stroke-width="0.65" stroke="#555"/>
</svg>
</body></html>
